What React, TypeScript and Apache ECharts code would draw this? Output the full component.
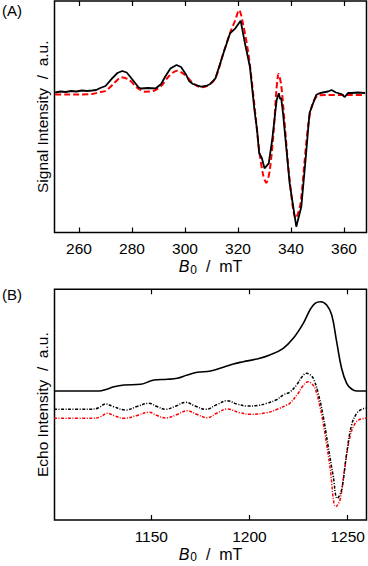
import React, { useEffect, useRef } from "react";
import * as echarts from "echarts";

// Panel A: CW EPR spectrum (experiment, black) and simulation (red dashed)
const fieldExpA = [251,253,255,257,259,261,263,265,266.5,268,270,272.5,274.5,276.3,278,280,282.5,283.5,286,289,291,292.5,294.5,296.8,298.5,300.5,301.5,303,306,308,309.5,311.5,314.5,317,319,321,322.5,324.5,326.2,327.2,328,329,330,331.6,332.9,334.6,335.4,335.9,336.3,337,339.5,342,343.9,345.5,347,349.5,350.7,352,354,355.3,357,359,360.3,361.5,363,365,368];
const signalExpA = [140.5,141.5,141,142,141.5,142.5,142,142.5,143,145,147,154.7,160,162,160.5,154,145.5,144.5,145,144.7,149,156.3,164.5,168,166,158,152,149,146.3,147,149,154.7,179.7,199.7,204.7,212.3,191.3,166.3,123,103,79.7,75,64.7,69.7,93,133,139.7,134,135,119.7,49.7,6.3,26.3,73,120,138,139.7,140.5,141.5,143,140.5,139,136,140,140,140.5,140];
const fieldSimA = [251,255,260,265,268,270,273,276,279,282,285,288,291,294,297,300,303,306,309,311.5,314.5,317,319,320.4,322,324,326,328,329.5,330.7,332,333.5,334.5,335.3,336.3,337.5,339.5,341.8,343.5,345,346.5,348,350,353,360,368];
const signalSimA = [138.5,138.5,138.5,139,141,142,149,155.7,153,145,141.3,142,147,157,162.3,158,150,145.7,148,155,180,200,213,223,208,178,133,83,58,50.3,63,103,143,159,148,113,53,14.7,28,68,108,128,137,138,138,138];
const ticksA = [260, 280, 300, 320, 340, 360];

// Panel B: echo-detected spectra
const fieldEchoB = [1100.5,1123.4,1126.9,1131,1136.1,1144.6,1151.4,1158.1,1163.2,1168.3,1173.4,1180.2,1186.7,1191.8,1196.8,1203.7,1210.4,1217.2,1222.3,1227.4,1230.8,1233.4,1236.3,1239.3,1241.9,1244.4,1246.9,1249.5,1252,1254.6,1259.6];
const echoB = [129,129,130.5,133.3,135,135.7,140,140.7,141.7,145,147.7,149,152.7,156,158.3,161,165,171.7,181.7,196.7,210,216.7,218.3,215,205,178.3,151.7,136.7,131,129,129];
const fieldDerivB = [1100.5,1118.8,1122.9,1126.8,1130.5,1137,1142.7,1148.8,1152.9,1157.3,1162.6,1167.5,1172.3,1177.7,1183.5,1188.7,1193.6,1198.9,1204.3,1208.8,1213.5,1217.6,1220.6,1224,1226.7,1229.1,1230.8,1232.5,1235,1237.6,1240.1,1242.7,1244.7,1246.9,1249.5,1252,1254.6,1257.1,1259.6];
const derivB = [110.7,110.7,112,116,113.5,110,113.5,116.7,113.5,110.7,114,117.7,114,110.7,115.5,119.3,116,114,114.5,116.7,120,125.5,128,135,143,146.7,145.5,141.7,126.7,103.3,73.3,43.3,21.7,30,66.7,95,106.7,110.7,111.7];
const fieldSimB = [1100.5,1119.8,1123.9,1127.6,1131.5,1136.1,1142.7,1148.8,1152.9,1157.5,1163.1,1168.3,1173.3,1178.5,1183.5,1188.7,1194.7,1200.6,1208.8,1214.5,1218.9,1220.6,1224.8,1227.2,1229.9,1231.8,1233.4,1235.9,1238.4,1241,1244,1246.1,1248.6,1251.2,1253.8,1256.3,1259.6];
const simB = [101.7,101.7,103,106.7,104,101.7,104.5,107.7,104.5,102,105.5,109.3,105.5,102.3,107,111,107.5,105.7,107.3,111,115,116.7,126.7,134,138.3,136,131.7,113.3,86.7,53.3,13.3,20,53.3,83.3,96.7,100.7,101.7];
const ticksB = [1150, 1200, 1250];

const FONT = "Liberation Sans";
const pairs = (xs: number[], ys: number[]) => xs.map((x, i) => [x, ys[i]]);

const xName = {
  name: "{i|B}{s|0}{n|  /  mT}",
  nameLocation: "middle" as const,
  nameGap: 25,
  nameTextStyle: {
    color: "#000",
    fontFamily: FONT,
    fontSize: 16,
    rich: {
      i: { fontStyle: "italic", fontSize: 16, fontFamily: FONT, color: "#000" },
      s: { fontSize: 12, fontFamily: FONT, color: "#000", verticalAlign: "bottom", padding: [6, 0, 0, 1] },
      n: { fontSize: 16, fontFamily: FONT, color: "#000" },
    },
  },
};

function bottomAxis(grid: number, min: number, max: number, ticks: number[]) {
  return {
    type: "value",
    gridIndex: grid,
    min,
    max,
    position: "bottom",
    axisLine: { show: false },
    axisTick: { show: true, inside: true, length: 5, customValues: ticks, lineStyle: { color: "#000", width: 1.2 } },
    axisLabel: {
      show: true, customValues: ticks, color: "#000", fontSize: 15.5, fontFamily: FONT, margin: 8,
      formatter: (v: number) => String(v),
    },
    splitLine: { show: false },
    ...xName,
  };
}
function topAxis(grid: number, min: number, max: number, ticks: number[]) {
  return {
    type: "value",
    gridIndex: grid,
    min,
    max,
    position: "top",
    axisLine: { show: false },
    axisTick: { show: true, inside: true, length: 5, customValues: ticks, lineStyle: { color: "#000", width: 1.2 } },
    axisLabel: { show: false },
    splitLine: { show: false },
  };
}
function leftAxis(grid: number, min: number, max: number, name: string) {
  return {
    type: "value",
    gridIndex: grid,
    min,
    max,
    axisLine: { show: false },
    axisTick: { show: false },
    axisLabel: { show: false },
    splitLine: { show: false },
    name,
    nameLocation: "middle",
    nameGap: 4,
    nameRotate: 90,
    nameTextStyle: { color: "#000", fontFamily: FONT, fontSize: 15.5 },
  };
}

export default function App() {
  const ref = useRef<HTMLDivElement>(null);
  useEffect(() => {
    if (!ref.current) return;
    const chart = echarts.init(ref.current, undefined, { renderer: "svg" });
    chart.setOption({
      animation: false,
      backgroundColor: "#fff",
      textStyle: { fontFamily: FONT },
      grid: [
        { left: 54.5, right: 1.5, top: 1, height: 231.5, show: true, borderColor: "#000", borderWidth: 1.5 },
        { left: 54.5, right: 1.5, top: 289.3, height: 230.7, show: true, borderColor: "#000", borderWidth: 1.5 },
      ],
      xAxis: [
        bottomAxis(0, 250.75, 368.5, ticksA),
        topAxis(0, 250.75, 368.5, ticksA),
        bottomAxis(1, 1100.7, 1259.6, ticksB),
        topAxis(1, 1100.7, 1259.6, ticksB),
      ],
      yAxis: [
        leftAxis(0, 0.5, 232, "Signal Intensity  /  a.u."),
        leftAxis(1, 0, 230.7, "Echo Intensity  /  a.u."),
      ],
      graphic: [
        { type: "text", left: 2, top: 3, style: { text: "(A)", fontSize: 15, fontFamily: FONT, fill: "#000" } },
        { type: "text", left: 2, top: 287, style: { text: "(B)", fontSize: 15, fontFamily: FONT, fill: "#000" } },
      ],
      series: [
        {
          type: "line", xAxisIndex: 0, yAxisIndex: 0, showSymbol: false, smooth: 0.3,
          data: pairs(fieldSimA, signalSimA),
          lineStyle: { color: "#ff0000", width: 2, type: [6, 3] },
        },
        {
          type: "line", xAxisIndex: 0, yAxisIndex: 0, showSymbol: false, smooth: false,
          data: pairs(fieldExpA, signalExpA),
          lineStyle: { color: "#000", width: 1.8 },
        },
        {
          type: "line", xAxisIndex: 2, yAxisIndex: 1, showSymbol: false, smooth: 0.4,
          data: pairs(fieldEchoB, echoB),
          lineStyle: { color: "#000", width: 1.6 },
        },
        {
          type: "line", xAxisIndex: 2, yAxisIndex: 1, showSymbol: false, smooth: 0.4,
          data: pairs(fieldSimB, simB),
          lineStyle: { color: "#ff0000", width: 1.5, type: [3, 1.5, 1, 1.5] },
        },
        {
          type: "line", xAxisIndex: 2, yAxisIndex: 1, showSymbol: false, smooth: 0.4,
          data: pairs(fieldDerivB, derivB),
          lineStyle: { color: "#000", width: 1.5, type: [3, 1.5, 1, 1.5] },
        },
      ],
    });
    return () => chart.dispose();
  }, []);
  return <div ref={ref} style={{ position: "fixed", left: 0, top: 0, width: 368, height: 566 }} />;
}
